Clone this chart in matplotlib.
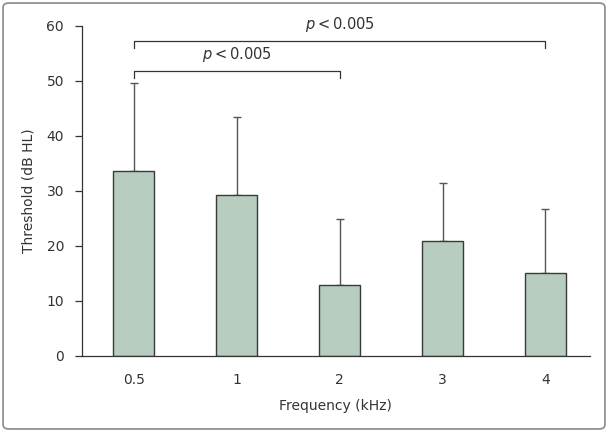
import matplotlib
matplotlib.use('Agg')
import matplotlib.pyplot as plt
from matplotlib.patches import FancyBboxPatch

freq_labels = ['0.5', '1', '2', '3', '4']
threshold_mean = [33.6, 29.3, 12.9, 20.9, 15.1]
threshold_sd = [16.0, 14.2, 12.0, 10.6, 11.6]

# significance brackets: (from bar, to bar, height, label)
brackets = [(0, 2, 51.8, r'$p<0.005$'), (0, 4, 57.3, r'$p<0.005$')]

plt.rcParams['font.family'] = ['DejaVu Sans']
plt.rcParams['mathtext.fontset'] = 'dejavusans'
text_col = '#333333'

fig = plt.figure(figsize=(6.08, 4.32), dpi=100)
ax = fig.add_axes([0.135, 0.176, 0.835, 0.764])

x = list(range(len(freq_labels)))
ax.bar(x, threshold_mean, width=0.4, color='#b7cdc0', edgecolor='#3a3a3a', linewidth=1.0, zorder=2)
ax.errorbar(x, threshold_mean, yerr=[[0] * len(x), threshold_sd], fmt='none',
            ecolor='#555555', elinewidth=1.0, capsize=3, capthick=1.0, zorder=1)

for a, b, h, lab in brackets:
    ax.plot([a, a, b, b], [h - 1.3, h, h, h - 1.3], color='#333333', lw=0.9, clip_on=False)
    ax.text((a + b) / 2, h + 1.3, lab, ha='center', va='bottom',
            fontsize=10.5, color=text_col)

ax.set_xlim(-0.5, 4.43)
ax.set_ylim(0, 60)
ax.set_yticks(range(0, 61, 10))
ax.set_xticks(x)
ax.set_xticklabels(freq_labels)
ax.tick_params(axis='x', length=0, pad=12, labelsize=10, labelcolor=text_col)
ax.tick_params(axis='y', length=5, width=0.9, color='#333333', pad=8, labelsize=10, labelcolor=text_col)
for s in ['top', 'right']:
    ax.spines[s].set_visible(False)
for s in ['left', 'bottom']:
    ax.spines[s].set_color('#333333')
    ax.spines[s].set_linewidth(0.9)

ax.set_xlabel('Frequency (kHz)', fontsize=10, color=text_col, labelpad=9)
ax.set_ylabel('Threshold (dB HL)', fontsize=10, color=text_col, labelpad=8)

border = FancyBboxPatch((0.005, 0.007), 0.99, 0.986, boxstyle='round,pad=0,rounding_size=0.01',
                        transform=fig.transFigure, fill=False, edgecolor='#888888', linewidth=1.2)
fig.patches.append(border)

fig.savefig('out.png', dpi=100)
